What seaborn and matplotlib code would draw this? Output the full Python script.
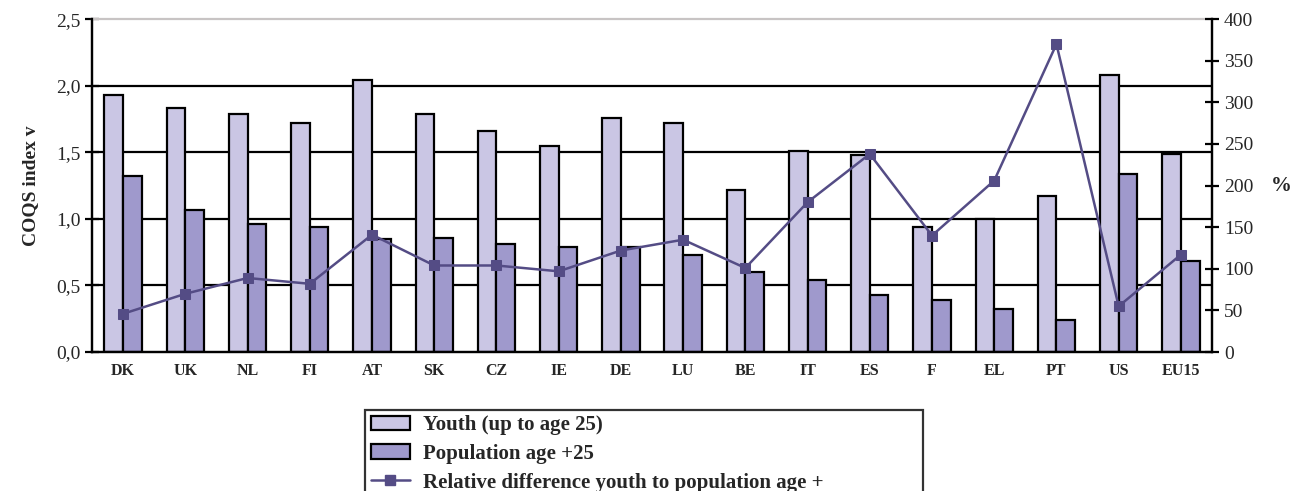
import numpy as np
import pandas as pd
import matplotlib
matplotlib.use("Agg")
import matplotlib.pyplot as plt
import seaborn as sns
from matplotlib.ticker import FixedLocator
from matplotlib.patches import Patch
from matplotlib.lines import Line2D

# data
countries = ["DK", "UK", "NL", "FI", "AT", "SK", "CZ", "IE", "DE", "LU",
             "BE", "IT", "ES", "F", "EL", "PT", "US", "EU15"]
youth = [1.93, 1.83, 1.79, 1.72, 2.04, 1.79, 1.66, 1.55, 1.76, 1.72,
         1.22, 1.51, 1.48, 0.94, 1.00, 1.17, 2.08, 1.49]
population = [1.32, 1.07, 0.96, 0.94, 0.85, 0.86, 0.81, 0.79, 0.79, 0.73,
              0.60, 0.54, 0.43, 0.39, 0.32, 0.24, 1.34, 0.68]
rel_diff = [46, 70, 89, 82, 141, 104, 104, 97, 122, 135,
            101, 180, 238, 140, 206, 370, 55, 117]

youth_label = "Youth (up to age 25)"
pop_label = "Population age +25"
line_label = "Relative difference youth to population age +"

left_ticks = [0, 0.5, 1.0, 1.5, 2.0, 2.5]
right_ticks = [0, 50, 100, 150, 200, 250, 300, 350, 400]

df = pd.DataFrame({
    "country": countries * 2,
    "value": youth + population,
    "group": [youth_label] * len(countries) + [pop_label] * len(countries),
})

sns.set_style("white")
plt.rcParams["font.family"] = ["Liberation Serif", "DejaVu Serif"]

fig = plt.figure(figsize=(13, 4.91), dpi=100)
ax = fig.add_axes([0.0708, 0.283, 0.8615, 0.678])

sns.barplot(data=df, x="country", y="value", hue="group", ax=ax,
            palette=["#CAC6E4", "#9F99CC"], width=0.6, gap=0,
            edgecolor="black", linewidth=1.6, saturation=1, legend=False)

ax.set_ylim(0, 2.5)
ax.set_xlim(-0.5, len(countries) - 0.5)
ax.set_axisbelow(True)
for v in left_ticks[1:-1]:
    ax.axhline(v, color="black", lw=1.6, zorder=0)
ax.set_yticks(left_ticks)
ax.set_yticklabels([f"{v:.1f}".replace(".", ",") for v in left_ticks], fontsize=14)
ax.set_xticks(range(len(countries)))
ax.set_xticklabels(countries, fontsize=11.5, fontweight="bold")
ax.xaxis.set_minor_locator(FixedLocator(np.arange(0.5, len(countries) - 1, 1)))
ax.tick_params(axis="x", which="major", length=0, pad=8)
ax.tick_params(axis="x", which="minor", length=12, width=1.6, direction="inout", color="black")
ax.tick_params(axis="y", length=10, width=1.6, direction="inout", color="black")
ax.set_xlabel("")
ax.set_ylabel("COQS index v", fontsize=14, fontweight="bold", labelpad=12)

for s in ["left", "right", "bottom"]:
    ax.spines[s].set_color("black")
    ax.spines[s].set_linewidth(1.6)
ax.spines["top"].set_color("#c8c4c4")
ax.spines["top"].set_linewidth(1.6)

ax2 = ax.twinx()
sns.lineplot(x=np.arange(len(countries)), y=rel_diff, ax=ax2, color="#544C85",
             lw=1.8, marker="s", markersize=6.5, markeredgecolor="#544C85")
ax2.set_ylim(0, 400)
ax2.set_yticks(right_ticks)
ax2.set_yticklabels([str(v) for v in right_ticks], fontsize=14)
ax2.tick_params(axis="y", length=10, width=1.6, direction="inout", color="black")
ax2.set_ylabel("%", fontsize=15, fontweight="bold", rotation=0, labelpad=20, va="center")
for s in ["left", "right", "bottom"]:
    ax2.spines[s].set_color("black")
    ax2.spines[s].set_linewidth(1.6)
ax2.spines["top"].set_visible(False)

handles = [
    Patch(facecolor="#CAC6E4", edgecolor="black", linewidth=1.6),
    Patch(facecolor="#9F99CC", edgecolor="black", linewidth=1.6),
    Line2D([], [], color="#544C85", lw=1.8, marker="s", markersize=6.5),
]
# legend box is wider than its text in the reference, so expand it
leg = fig.legend(handles, [youth_label, pop_label, line_label],
                 loc="upper left", mode="expand",
                 bbox_to_anchor=(0.281, 0.0, 0.429, 0.165),
                 prop={"size": 15, "weight": "bold"}, frameon=True,
                 fancybox=False, borderpad=0.25, labelspacing=0.42,
                 handlelength=1.9, handletextpad=0.6, borderaxespad=0)
leg.get_frame().set_edgecolor("black")
leg.get_frame().set_linewidth(1.6)

fig.savefig("out.png", dpi=100)
